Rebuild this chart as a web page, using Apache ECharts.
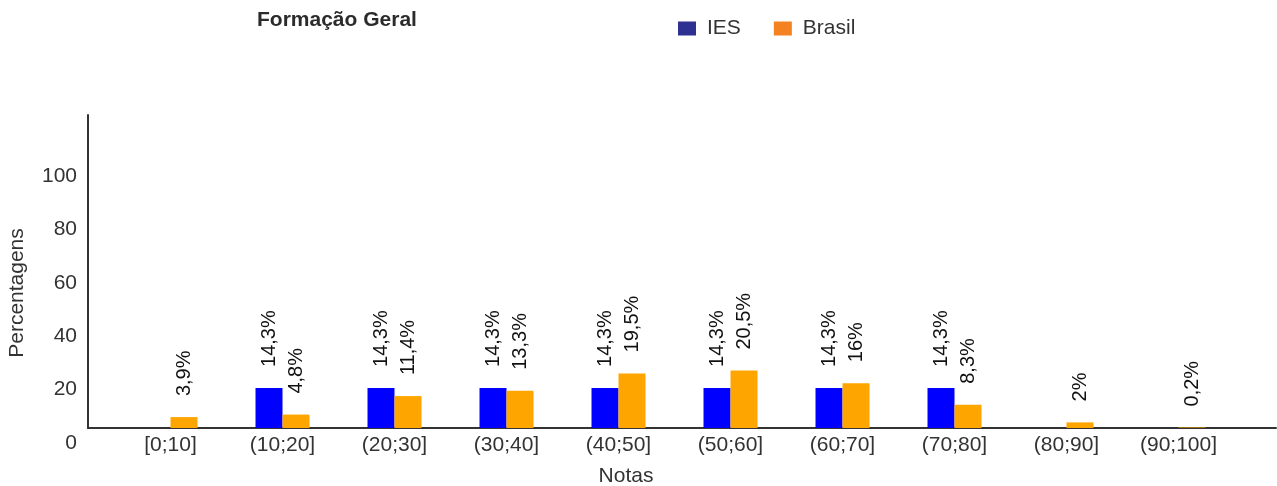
<!DOCTYPE html>
<html><head><meta charset="utf-8">
<script src="https://cdn.jsdelivr.net/npm/echarts@6/dist/echarts.min.js"></script>
<style>html,body{margin:0;padding:0;background:#fff}#c{width:1277px;height:486px}</style>
</head><body><div id="c"></div>
<script>
const categories = ['[0;10]','(10;20]','(20;30]','(30;40]','(40;50]','(50;60]','(60;70]','(70;80]','(80;90]','(90;100]'];
const iesValues = [null,14.3,14.3,14.3,14.3,14.3,14.3,14.3,null,null];
const brasilValues = [3.9,4.8,11.4,13.3,19.5,20.5,16,8.3,2,0.2];
const seriesNames = ['IES','Brasil'];
const yTickStep = 20;

const FONT = "'Liberation Sans', Arial, Helvetica, sans-serif";
const fmt = p => (p.value == null ? '' : String(p.value).replace('.', ',') + '%');
const labelCfg = {
  show: true, position: 'top', rotate: 90, align: 'left', verticalAlign: 'middle',
  distance: 21, fontSize: 20, color: '#111', fontFamily: FONT, formatter: fmt
};
const yMaxLabels = 117.2;
const yMaxBars = 111.8;

const chart = echarts.init(document.getElementById('c'), null, {renderer: 'canvas'});
chart.setOption({
  animation: false,
  backgroundColor: '#fff',
  textStyle: {fontFamily: FONT},
  title: {
    text: 'Formação Geral', left: 257, top: 10, padding: 0,
    textStyle: {fontSize: 21, fontWeight: 'bold', color: '#2b2b2b', fontFamily: FONT}
  },
  legend: {
    left: 678, top: 18, padding: 0, icon: 'rect', itemWidth: 18, itemHeight: 14, itemGap: 33,
    textStyle: {fontSize: 21, color: '#333', fontFamily: FONT, padding: [0, 0, 0, 6]},
    data: [
      {name: seriesNames[0], itemStyle: {color: '#2e3192'}},
      {name: seriesNames[1], itemStyle: {color: '#f58220'}}
    ]
  },
  grid: [
    {left: 88, right: 1, top: 115, bottom: 58, containLabel: false, outerBoundsMode: 'none'},
    {left: 114.5, right: 42.5, top: 115, bottom: 58, containLabel: false, outerBoundsMode: 'none'}
  ],
  xAxis: [
    {gridIndex: 0, type: 'value', min: 0, max: 1,
     axisLine: {show: true, lineStyle: {color: '#333', width: 2}},
     axisTick: {show: false}, axisLabel: {show: false}, splitLine: {show: false}},
    {gridIndex: 1, type: 'category', data: categories,
     axisLine: {show: false}, axisTick: {show: false},
     axisLabel: {fontSize: 21, color: '#333', margin: 7, interval: 0, fontFamily: FONT},
     name: 'Notas', nameLocation: 'middle', nameGap: 38,
     nameTextStyle: {fontSize: 21, color: '#333', fontFamily: FONT, padding: [0, 97, 0, 0]}}
  ],
  yAxis: [
    {gridIndex: 0, type: 'value', min: 0, max: yMaxLabels, interval: yTickStep,
     axisLine: {show: true, lineStyle: {color: '#333', width: 2}},
     axisTick: {show: false}, splitLine: {show: false},
     axisLabel: {fontSize: 21, color: '#333', margin: 11, showMaxLabel: false,
                 verticalAlign: 'top', lineHeight: 30, fontFamily: FONT},
     name: 'Percentagens', nameLocation: 'middle', nameGap: 60,
     nameTextStyle: {fontSize: 21, color: '#333', fontFamily: FONT, padding: [0, 43, 0, 0]}},
    {gridIndex: 1, type: 'value', min: 0, max: yMaxBars, show: false}
  ],
  series: [
    {name: seriesNames[0], type: 'bar', xAxisIndex: 1, yAxisIndex: 1, data: iesValues,
     barWidth: 27, barGap: '0%', itemStyle: {color: '#0000ff'}, label: labelCfg},
    {name: seriesNames[1], type: 'bar', xAxisIndex: 1, yAxisIndex: 1, data: brasilValues,
     barWidth: 27, barGap: '0%', itemStyle: {color: '#ffa500'}, label: labelCfg}
  ]
});
</script>
</body></html>
